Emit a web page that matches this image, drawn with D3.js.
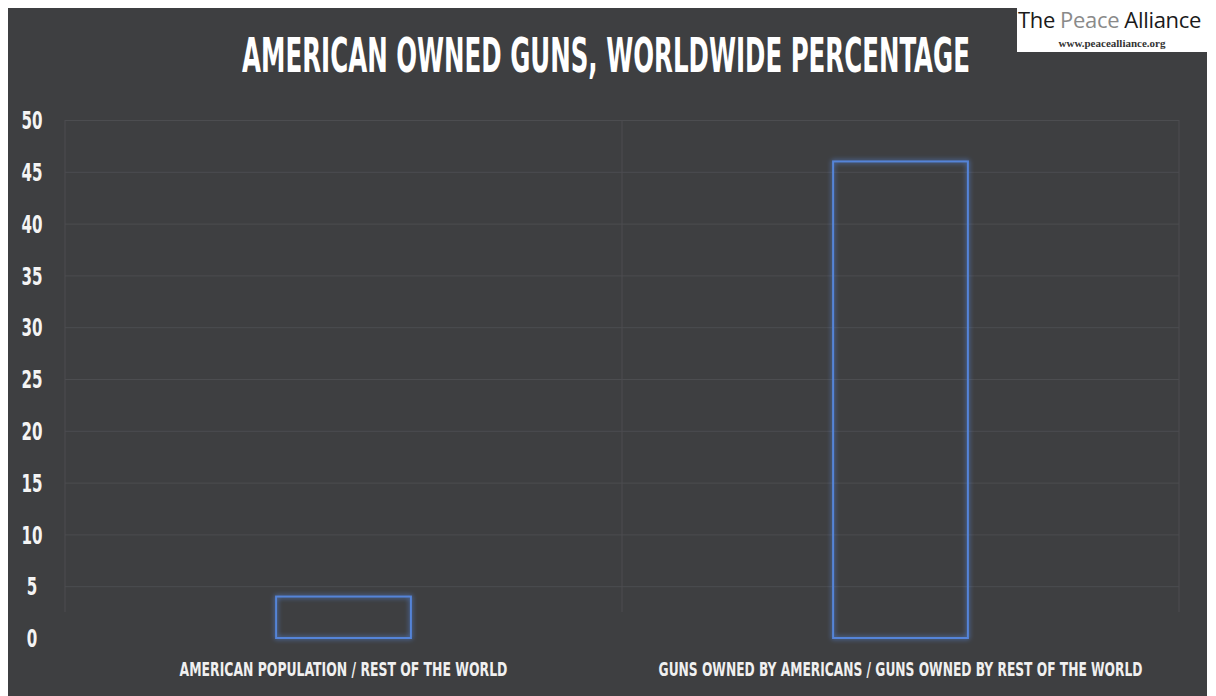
<!DOCTYPE html>
<meta charset="utf-8">
<style>
body { margin: 0; background: #fff; }
.grid line { stroke: #4c4d50; stroke-width: 1px; }
.grid path { display: none; }
.ylab text { fill: #f4f4f4; font-family: "Liberation Sans Narrow", "DejaVu Sans Condensed", sans-serif; font-weight: bold; }
.ylab path, .ylab line { display: none; }
.bar { fill: none; stroke: #5584d8; stroke-width: 2px; }
.cond { font-family: "Liberation Sans Narrow", "DejaVu Sans Condensed", sans-serif; font-weight: bold; }
</style>
<body>
<script src="https://d3js.org/d3.v7.min.js"></script>
<script>

// chart data
var categories = ["AMERICAN POPULATION / REST OF THE WORLD",
                  "GUNS OWNED BY AMERICANS / GUNS OWNED BY REST OF THE WORLD"];
var values = [4, 46];
var yTicks = [0, 5, 10, 15, 20, 25, 30, 35, 40, 45, 50];
var title = "AMERICAN OWNED GUNS, WORLDWIDE PERCENTAGE";

var W = 1216, H = 696;

var svg = d3.select("body").append("svg")
    .attr("width", W)
    .attr("height", H);

// glow for the bar outlines
var defs = svg.append("defs");
var glow = defs.append("filter").attr("id", "glow")
    .attr("x", "-20%").attr("y", "-20%").attr("width", "140%").attr("height", "140%");
glow.append("feGaussianBlur").attr("in", "SourceGraphic").attr("stdDeviation", 2.5).attr("result", "b");
var merge = glow.append("feMerge");
merge.append("feMergeNode").attr("in", "b");
merge.append("feMergeNode").attr("in", "SourceGraphic");

// dark panel
svg.append("rect")
    .attr("x", 8).attr("y", 8)
    .attr("width", 1199).attr("height", H - 8)
    .attr("fill", "#3e3f41");

// scales
var x = d3.scaleBand().domain(categories).range([65, 1179]).padding(0);
var y = d3.scaleLinear().domain([0, 50]).range([638, 120]);

// squeeze a text horizontally so it spans w pixels, anchored at its centre cx
function fitWidth(sel, cx, w) {
  sel.each(function() {
    var t = d3.select(this);
    var n = this.getComputedTextLength();
    var k = w / n;
    t.attr("x", 0).attr("text-anchor", "middle")
     .attr("transform", "translate(" + cx + "," + t.attr("y") + ") scale(" + k + ",1)")
     .attr("y", 0);
  });
}

// horizontal gridlines
svg.append("g")
    .attr("class", "grid")
    .attr("transform", "translate(65,0)")
    .call(d3.axisLeft(y).tickValues(yTicks.filter(function(d) { return d > 0; }))
        .tickSize(-(1179 - 65)).tickFormat(""));

// vertical gridlines on band edges
var edges = categories.map(function(c) { return x(c); }).concat([x.range()[1]]);
svg.append("g").attr("class", "grid")
  .selectAll("line")
    .data(edges)
  .enter().append("line")
    .attr("x1", function(d) { return d; })
    .attr("x2", function(d) { return d; })
    .attr("y1", y(50))
    .attr("y2", y(2.5));

// y labels
var ylab = svg.append("g")
    .attr("class", "ylab")
    .attr("transform", "translate(32,0)")
    .call(d3.axisLeft(y).tickValues(yTicks).tickSize(0).tickPadding(0));
ylab.selectAll("text")
    .attr("text-anchor", "middle")
    .attr("x", 0)
    .attr("dy", "0.36em")
    .style("font-size", "24px")
    .attr("transform", "scale(0.7,1)");

// bars
var barW = x.bandwidth() * 0.242;
svg.selectAll(".bar")
    .data(values)
  .enter().append("rect")
    .attr("class", "bar")
    .attr("filter", "url(#glow)")
    .attr("x", function(d, i) { return x(categories[i]) + x.bandwidth() / 2 - barW / 2; })
    .attr("y", function(d) { return y(d); })
    .attr("width", barW)
    .attr("height", function(d) { return y(0) - y(d); });

// category labels
var labW = [328, 484];
svg.selectAll(".xlab")
    .data(categories)
  .enter().append("text")
    .attr("class", "xlab cond")
    .attr("y", 676)
    .style("font-size", "20px")
    .attr("fill", "#f0f0f0")
    .text(function(d) { return d; })
    .each(function(d, i) {
      fitWidth(d3.select(this), x(d) + x.bandwidth() / 2, labW[i]);
    });

// title
svg.append("text")
    .attr("class", "cond")
    .attr("y", 72)
    .style("font-size", "48px")
    .attr("fill", "#ffffff")
    .text(title)
    .call(fitWidth, 606, 728);

// logo box
var logo = svg.append("g");
logo.append("rect")
    .attr("x", 1017).attr("y", 0)
    .attr("width", 191).attr("height", 52)
    .attr("fill", "#ffffff");
var words = [["The", "#1a1a1a"], ["Peace", "#8a8a8a"], ["Alliance", "#1a1a1a"]];
var lx = 1018;
words.forEach(function(w) {
  var t = logo.append("text")
      .attr("x", lx).attr("y", 28)
      .style("font-family", "'Open Sans', 'Liberation Sans', sans-serif")
      .style("font-size", "22px")
      .style("letter-spacing", "-0.3px")
      .attr("fill", w[1])
      .text(w[0]);
  lx += t.node().getComputedTextLength() + 5;
});
logo.append("text")
    .attr("x", 1112).attr("y", 47)
    .attr("text-anchor", "middle")
    .style("font-family", "'Liberation Serif', 'DejaVu Serif', serif")
    .style("font-weight", "bold")
    .style("font-size", "11px")
    .attr("fill", "#333")
    .text("www.peacealliance.org");

</script>
</body>
